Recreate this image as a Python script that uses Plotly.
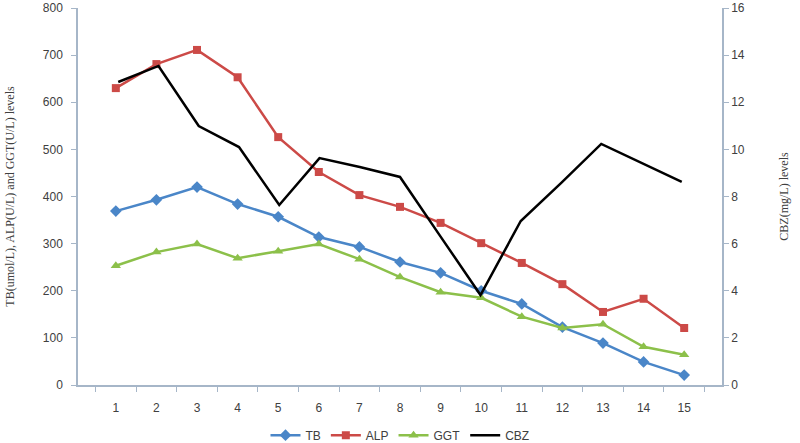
import plotly.graph_objects as go

categories = [str(i) for i in range(1, 16)]
tb = [369, 393, 420, 384, 357, 314, 293, 261, 238, 200, 172, 123, 89, 49, 21]
alp = [630, 681, 711, 653, 526, 452, 403, 378, 344, 301, 259, 214, 155, 183, 121]
ggt = [253, 282, 299, 269, 284, 299, 267, 229, 197, 185, 145, 121, 129, 81, 64]
cbz_pos = list(range(1, 16))
cbz = [12.86, 13.54, 10.99, 10.10, 7.64, 9.63, 9.25, 8.83, 6.32, 3.82, 6.96, 8.57, 10.23, 9.42, 8.62]

axis_col = "#a6b6c8"
txt_col = "#404040"
tick_font = dict(family="Liberation Sans, Arial", size=12, color=txt_col)
title_font = dict(family="Liberation Serif, Times New Roman", size=12, color=txt_col)

fig = go.Figure()
fig.add_trace(go.Scatter(x=categories, y=tb, name="TB", mode="lines+markers",
                         line=dict(color="#4a86c8", width=2.5),
                         marker=dict(symbol="diamond", size=9, color="#4a86c8")))
fig.add_trace(go.Scatter(x=categories, y=alp, name="ALP", mode="lines+markers",
                         line=dict(color="#cc4a47", width=2.5),
                         marker=dict(symbol="square", size=8, color="#cc4a47")))
fig.add_trace(go.Scatter(x=categories, y=ggt, name="GGT", mode="lines+markers",
                         line=dict(color="#8cc04a", width=2.5),
                         marker=dict(symbol="triangle-up", size=9, color="#8cc04a")))
fig.add_trace(go.Scatter(x=cbz_pos, y=cbz, name="CBZ", mode="lines",
                         line=dict(color="#000000", width=2.5),
                         xaxis="x2", yaxis="y2"))

fig.update_layout(
    width=800, height=443,
    margin=dict(l=78, r=78, t=8, b=58, autoexpand=False),
    paper_bgcolor="white", plot_bgcolor="white",
    showlegend=True,
    legend=dict(orientation="h", x=0.5, xanchor="center", y=-0.133, yanchor="middle",
                font=dict(family="Liberation Sans, Arial", size=12, color=txt_col),
                itemwidth=30, tracegroupgap=0),
    xaxis=dict(type="category", tickson="boundaries", ticks="outside", ticklen=5,
               tickcolor=axis_col, showline=True, linecolor=axis_col, linewidth=1.5,
               showgrid=False, tickfont=tick_font, zeroline=False, automargin=False,
               ticklabelstandoff=11),
    xaxis2=dict(overlaying="x", range=[0, 16], visible=False, showgrid=False),
    yaxis=dict(range=[0, 800], dtick=100, ticks="outside", ticklen=5, tickcolor=axis_col,
               showline=True, linecolor=axis_col, linewidth=1.5, showgrid=False,
               zeroline=False, tickfont=tick_font, automargin=False, ticklabelstandoff=6,
               title=dict(text="TB(umol/L), ALP(U/L) and GGT(U/L) levels", font=title_font,
                          standoff=26)),
    yaxis2=dict(range=[0, 16], dtick=2, overlaying="y", side="right", ticks="outside",
                ticklen=5, tickcolor=axis_col, showline=True, linecolor=axis_col,
                linewidth=1.5, showgrid=False, zeroline=False, tickfont=tick_font,
                automargin=False,
                title=dict(text="CBZ(mg/L) levels", font=title_font, standoff=36)),
)

fig.write_html("out.html", config={"displayModeBar": False},
               post_script="document.body.style.margin='0';")
